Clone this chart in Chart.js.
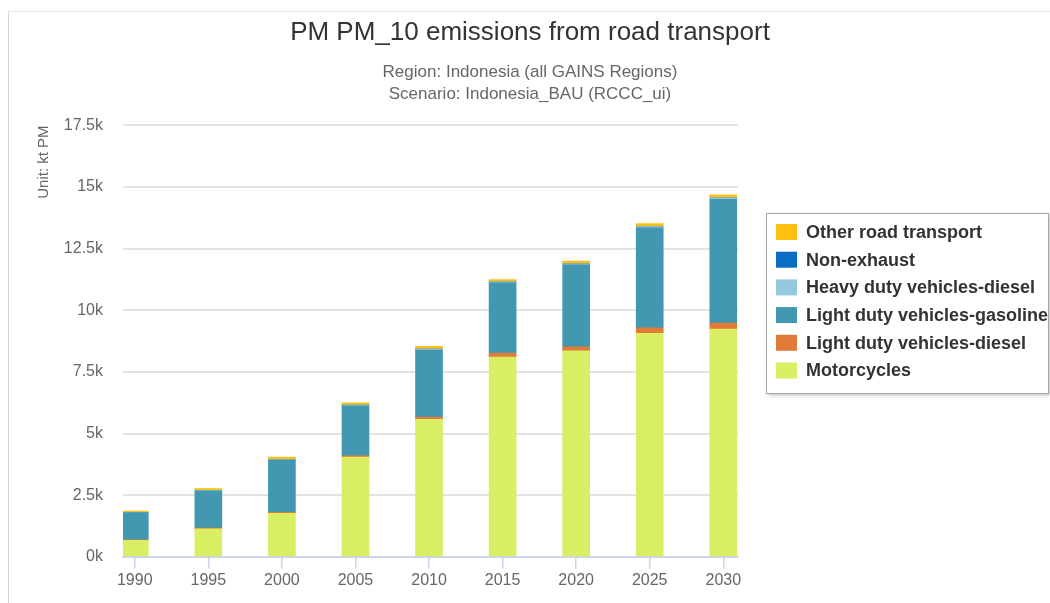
<!DOCTYPE html>
<html>
<head>
<meta charset="utf-8">
<title>PM PM_10 emissions from road transport</title>
<script src="https://cdn.jsdelivr.net/npm/chart.js@4.4.1/dist/chart.umd.min.js"></script>
<style>
  html, body { margin: 0; padding: 0; background: #fff; overflow: hidden; }
  #wrap { position: relative; width: 1050px; height: 603px; }
  #frame { position: absolute; left: 8px; top: 11px; width: 1100px; height: 700px;
           border-left: 1px solid #d6d6d6; border-top: 1px solid #e4e4e4; }
  canvas { position: absolute; left: 0; top: 0; }
</style>
</head>
<body>
<div id="wrap">
  <div id="frame"></div>
  <canvas id="pmChart" width="1050" height="603"></canvas>
</div>
<script>
// values in kt PM
const years = [1990, 1995, 2000, 2005, 2010, 2015, 2020, 2025, 2030];
const motorcycles = [670, 1130, 1760, 4050, 5580, 8100, 8360, 9070, 9240];
const ldvDiesel = [20, 30, 40, 50, 90, 160, 160, 220, 240];
const ldvGasoline = [1100, 1520, 2130, 2020, 2720, 2850, 3320, 4050, 5020];
const hdvDiesel = [15, 15, 25, 30, 40, 40, 45, 55, 60];
const nonExhaust = [0, 0, 0, 0, 0, 0, 0, 0, 0];
const otherRoad = [50, 70, 90, 100, 110, 100, 110, 120, 120];
const yTickLabels = ["0k", "2.5k", "5k", "7.5k", "10k", "12.5k", "15k", "17.5k"];

const seriesNames = ["Motorcycles", "Light duty vehicles-diesel", "Light duty vehicles-gasoline",
  "Heavy duty vehicles-diesel", "Non-exhaust", "Other road transport"];
const seriesValues = [motorcycles, ldvDiesel, ldvGasoline, hdvDiesel, nonExhaust, otherRoad];
const seriesColors = ["#d9ee62", "#e07b39", "#4298b0", "#94c8df", "#0b6cc4", "#fdbf12"];

Chart.defaults.font.family = "'Liberation Sans', Arial, sans-serif";
Chart.defaults.color = "#666";

// Highcharts-like legend box, stacked order reversed (top series first)
const boxLegend = {
  id: "boxLegend",
  afterDraw(chart) {
    const ctx = chart.ctx;
    const left = chart.chartArea.right + 28;
    const top = 213, w = 282, h = 180, rowH = 27.7;
    ctx.save();
    ctx.shadowColor = "rgba(0,0,0,0.28)";
    ctx.shadowBlur = 4;
    ctx.shadowOffsetX = 1;
    ctx.shadowOffsetY = 1;
    ctx.fillStyle = "#fff";
    ctx.fillRect(left + 0.5, top + 0.5, w, h);
    ctx.shadowColor = "transparent";
    ctx.strokeStyle = "#a8a8a8";
    ctx.lineWidth = 1;
    ctx.strokeRect(left + 0.5, top + 0.5, w, h);
    ctx.font = "bold 18px 'Liberation Sans', Arial, sans-serif";
    ctx.textBaseline = "middle";
    const ds = chart.data.datasets.slice().reverse();
    ds.forEach((d, i) => {
      const cy = top + 19 + i * rowH;
      ctx.fillStyle = d.backgroundColor;
      ctx.fillRect(left + 10, cy - 8, 21, 16);
      ctx.fillStyle = "#333";
      ctx.fillText(d.label, left + 40, cy + 1);
    });
    ctx.restore();
  }
};

const ctx = document.getElementById("pmChart").getContext("2d");
new Chart(ctx, {
  type: "bar",
  data: {
    datasets: seriesNames.map((name, i) => ({
      label: name,
      data: years.map((yr, j) => ({x: yr, y: seriesValues[i][j]})),
      backgroundColor: seriesColors[i],
      borderWidth: 0,
      barThickness: 27,
      yAxisID: "y"
    }))
  },
  options: {
    responsive: false,
    animation: false,
    layout: {padding: {left: 10, right: 0, top: 0, bottom: 11}},
    plugins: {
      legend: {display: false},
      tooltip: {enabled: false},
      title: {
        display: true,
        text: "PM PM_10 emissions from road transport",
        color: "#333",
        font: {size: 26, weight: "normal", lineHeight: 1.2},
        padding: {top: 17, bottom: 13}
      },
      subtitle: {
        display: true,
        text: ["Region: Indonesia (all GAINS Regions)", "Scenario: Indonesia_BAU (RCCC_ui)"],
        color: "#666",
        font: {size: 17, lineHeight: 1.3},
        padding: {top: 0, bottom: 20}
      }
    },
    scales: {
      x: {
        type: "linear",
        stacked: true,
        offset: false,
        min: 1989.2,
        max: 2031,
        afterBuildTicks: axis => { axis.ticks = years.map(v => ({value: v})); },
        ticks: {
          autoSkip: false,
          maxRotation: 0,
          padding: 2,
          color: "#666",
          font: {size: 16},
          callback: (v, i) => String(years[i])
        },
        grid: {offset: false, drawOnChartArea: false, drawTicks: true, tickLength: 12, color: "#ccd6eb", lineWidth: 1.5},
        border: {display: true, color: "#ccd6eb", width: 2}
      },
      y: {
        stacked: true,
        position: "left",
        min: 0,
        max: 17500,
        afterFit: s => { s.width = 113; },
        ticks: {
          stepSize: 2500,
          padding: 20,
          color: "#666",
          font: {size: 16},
          callback: (v, i) => yTickLabels[i]
        },
        grid: {color: "#e3e3e3", lineWidth: 2, drawTicks: false},
        border: {display: false},
        title: {
          display: true,
          text: "Unit: kt PM",
          align: "end",
          color: "#666",
          font: {size: 15, lineHeight: 1.2},
          padding: {top: 25, bottom: 4}
        }
      },
      spacer: {
        axis: "y",
        position: "right",
        display: true,
        afterFit: s => { s.width = 312; },
        ticks: {display: false},
        grid: {display: false},
        border: {display: false}
      }
    }
  },
  plugins: [boxLegend]
});
</script>
</body>
</html>
